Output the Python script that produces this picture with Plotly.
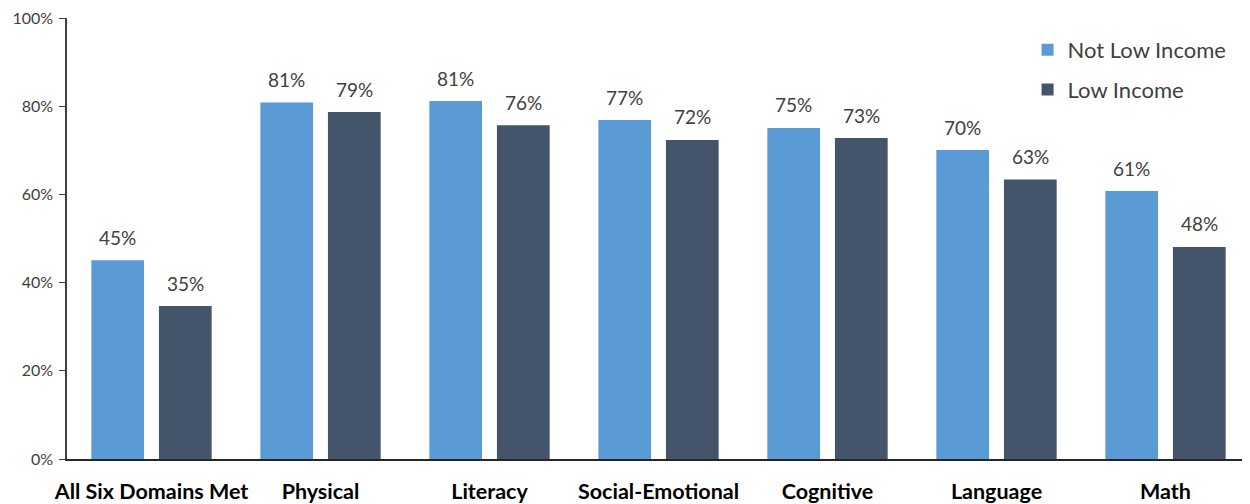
import plotly.graph_objects as go

categories = ["All Six Domains Met", "Physical", "Literacy", "Social-Emotional", "Cognitive", "Language", "Math"]
not_low_income = [45.1, 80.9, 81.2, 76.9, 75.1, 70.1, 60.8]
low_income = [34.7, 78.7, 75.7, 72.4, 72.8, 63.4, 48.1]
y_ticks = [0, 20, 40, 60, 80, 100]
y_tick_labels = [f"{v}%" for v in y_ticks]

C1 = "#5B9BD5"
C2 = "#44546A"
FONT = "Lato"

fig = go.Figure()
fig.add_trace(go.Bar(name="Not Low Income", x=categories, y=not_low_income, legendgroup="a",
                     marker=dict(color=C1, line=dict(width=0))))
fig.add_trace(go.Bar(name="Low Income", x=categories, y=low_income, legendgroup="b",
                     marker=dict(color=C2, line=dict(width=0))))

annotations = []
for series, shift in ((not_low_income, -33.75), (low_income, 33.75)):
    for c, v in zip(categories, series):
        annotations.append(dict(x=c, y=v, xref="x", yref="y", text=f"{round(v):.0f}%",
                                showarrow=False, xshift=shift, yshift=23, yanchor="middle",
                                font=dict(family=FONT, size=19, color="#404040")))

fig.update_layout(
    width=1242, height=496,
    margin=dict(l=59, r=0, t=10, b=45),
    paper_bgcolor="white", plot_bgcolor="white",
    barmode="group", bargap=0.2, bargroupgap=0.22,
    annotations=annotations,
    font=dict(family=FONT),
    legend=dict(x=0.812, y=0.975, xanchor="left", yanchor="top", traceorder="grouped",
                font=dict(family=FONT, size=22, color="#404040"),
                tracegroupgap=8, itemwidth=30, bgcolor="rgba(0,0,0,0)"),
    xaxis=dict(showline=True, linecolor="#262626", linewidth=1.5, ticks="outside",
               ticklen=12, tickcolor="rgba(0,0,0,0)",
               tickfont=dict(family=FONT, size=21.5, color="black", weight="bold")),
    yaxis=dict(range=[0, 100.05], tickvals=y_ticks, ticktext=y_tick_labels, showgrid=False,
               showline=True, linecolor="#404040", linewidth=1.5, ticks="outside",
               ticklen=6, tickcolor="#404040", zeroline=False, ticklabelstandoff=3,
               ticklabeloverflow="allow",
               tickfont=dict(family=FONT, size=16, color="#404040")),
)

fig.write_html("out.html")
